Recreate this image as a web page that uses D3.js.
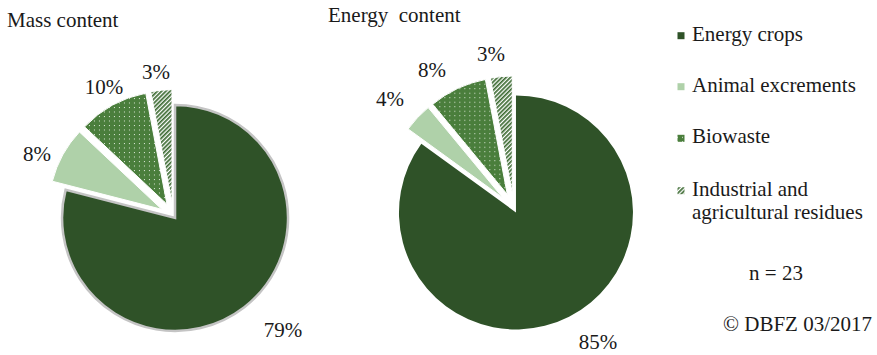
<!DOCTYPE html>
<html>
<head>
<meta charset="utf-8">
<script src="https://cdn.jsdelivr.net/npm/d3@7"></script>
<style>
  html, body { margin: 0; padding: 0; background: #fff; }
  svg { display: block; }
  text { font-family: "Liberation Serif", "Times New Roman", serif; fill: #1a1a1a; }
</style>
</head>
<body>
<script>
// ---- data ----
const categories = ["Energy crops", "Animal excrements", "Biowaste", "Industrial and agricultural residues"];
const legendLines = [["Energy crops"], ["Animal excrements"], ["Biowaste"], ["Industrial and", "agricultural residues"]];
const massShares = [79, 8, 10, 3];
const energyShares = [85, 4, 8, 3];
const panelTitles = ["Mass content", "Energy  content"];
const sampleNote = "n = 23";
const creditNote = "\u00A9 DBFZ 03/2017";

// ---- styling / layout ----
const W = 877, H = 355;
const FONT = 21;
const colors = { crops: "#2f5228", manure: "#afd1a9", bio: "#4a7e3c", hatch: "#3d6b33" };

const panels = [
  { cx: 173.2, cy: 215.6, r: 113, explode: [3, 13, 13, 13], mainStroke: "#c4c4c4", mainStrokeW: 2.5,
    labelR: [158.6, 149.5, 146, 144.6], labelNudge: [-6, -4.5, 0.5, -1.4],
    title: { x: 7, y: 27 } },
  { cx: 513.7, cy: 208, r: 117, explode: [5, 15, 15, 15], mainStroke: "none", mainStrokeW: 0,
    labelR: [158.3, 164.9, 160.4, 155.7], labelNudge: [-5.2, -1.8, -5.4, -3],
    title: { x: 328, y: 22 } }
];

const svg = d3.select("body").append("svg")
  .attr("width", W).attr("height", H)
  .attr("viewBox", `0 0 ${W} ${H}`);

// ---- fill patterns ----
const defs = svg.append("defs");
const dots = defs.append("pattern").attr("id", "dots")
  .attr("patternUnits", "userSpaceOnUse").attr("width", 5).attr("height", 4.5);
dots.append("rect").attr("width", 5).attr("height", 4.5).attr("fill", colors.bio);
dots.append("rect").attr("x", 2).attr("y", 1.8).attr("width", 1).attr("height", 1).attr("fill", "#dfeadb");

const hatch = defs.append("pattern").attr("id", "hatch")
  .attr("patternUnits", "userSpaceOnUse").attr("width", 3).attr("height", 3)
  .attr("patternTransform", "rotate(45)");
hatch.append("rect").attr("width", 3).attr("height", 3).attr("fill", "#fff");
hatch.append("rect").attr("width", 1.7).attr("height", 3).attr("fill", colors.hatch);

const fills = [colors.crops, colors.manure, "url(#dots)", "url(#hatch)"];

// ---- pies ----
function drawPie(cfg, values, title) {
  const slices = d3.pie().sort(null).value(d => d)(values);
  const arc = d3.arc().innerRadius(0).outerRadius(cfg.r);
  const g = svg.append("g").attr("transform", `translate(${cfg.cx},${cfg.cy})`);

  g.selectAll("path.slice").data(slices).join("path")
    .attr("class", "slice")
    .attr("d", arc)
    .attr("transform", (d, i) => {
      const mid = (d.startAngle + d.endAngle) / 2;
      return `translate(${Math.sin(mid) * cfg.explode[i]},${-Math.cos(mid) * cfg.explode[i]})`;
    })
    .attr("fill", (d, i) => fills[i])
    .attr("stroke", (d, i) => i === 0 ? cfg.mainStroke : "#fff")
    .attr("stroke-width", (d, i) => i === 0 ? cfg.mainStrokeW : 1)
    .attr("stroke-linejoin", "miter");

  g.selectAll("text.pct").data(slices).join("text")
    .attr("class", "pct")
    .attr("text-anchor", "middle")
    .attr("dy", "0.35em")
    .attr("font-size", FONT)
    .attr("x", (d, i) => Math.sin((d.startAngle + d.endAngle) / 2 + cfg.labelNudge[i] * Math.PI / 180) * cfg.labelR[i])
    .attr("y", (d, i) => -Math.cos((d.startAngle + d.endAngle) / 2 + cfg.labelNudge[i] * Math.PI / 180) * cfg.labelR[i])
    .text(d => d.data + "%");

  svg.append("text")
    .attr("x", cfg.title.x).attr("y", cfg.title.y)
    .attr("font-size", FONT)
    .style("white-space", "pre")
    .text(title);
}

drawPie(panels[0], massShares, panelTitles[0]);
drawPie(panels[1], energyShares, panelTitles[1]);

// ---- legend ----
const legendRows = [40.7, 91.7, 143.3, 195.7];
const legend = svg.append("g");
categories.forEach((c, i) => {
  legend.append("rect")
    .attr("x", 677.5).attr("y", legendRows[i] - 8.5)
    .attr("width", 7).attr("height", 7)
    .attr("fill", fills[i]);
  const t = legend.append("text")
    .attr("x", 692).attr("y", legendRows[i])
    .attr("font-size", FONT);
  legendLines[i].forEach((line, k) => {
    t.append("tspan").attr("x", 692).attr("dy", k === 0 ? 0 : 23).text(line);
  });
});

svg.append("text").attr("x", 776).attr("y", 279.5)
  .attr("text-anchor", "middle").attr("font-size", FONT).text(sampleNote);
svg.append("text").attr("x", 872).attr("y", 331)
  .attr("text-anchor", "end").attr("font-size", FONT).text(creditNote);
</script>
</body>
</html>
